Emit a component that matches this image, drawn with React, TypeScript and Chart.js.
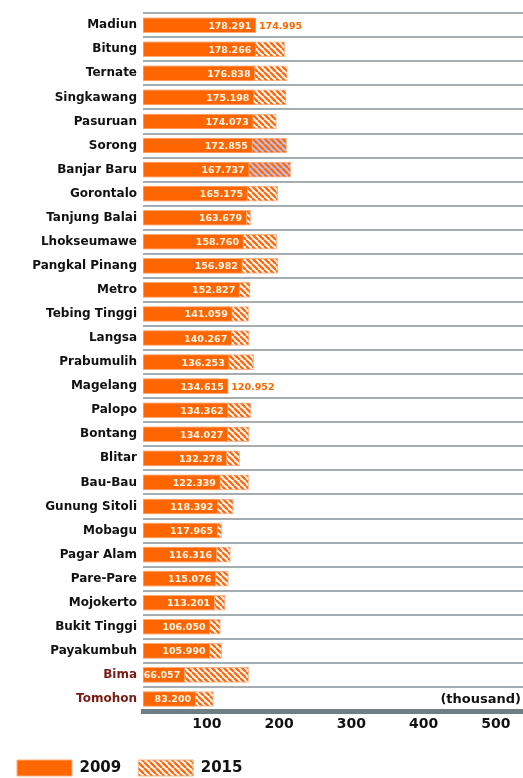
import React, { useEffect, useRef } from "react";
import { Chart, registerables } from "chart.js";

Chart.register(...registerables);

const CITIES = [
  "Madiun", "Bitung", "Ternate", "Singkawang", "Pasuruan", "Sorong", "Banjar Baru",
  "Gorontalo", "Tanjung Balai", "Lhokseumawe", "Pangkal Pinang", "Metro", "Tebing Tinggi",
  "Langsa", "Prabumulih", "Magelang", "Palopo", "Bontang", "Blitar", "Bau-Bau",
  "Gunung Sitoli", "Mobagu", "Pagar Alam", "Pare-Pare", "Mojokerto", "Bukit Tinggi",
  "Payakumbuh", "Bima", "Tomohon",
];

const V2009 = [
  178.291, 178.266, 176.838, 175.198, 174.073, 172.855, 167.737,
  165.175, 163.679, 158.76, 156.982, 152.827, 141.059,
  140.267, 136.253, 134.615, 134.362, 134.027, 132.278, 122.339,
  118.392, 117.965, 116.316, 115.076, 113.201, 106.05,
  105.99, 66.057, 83.2,
];

const V2015 = [
  174.995, 223.6, 227.8, 225.8, 210.5, 226.7, 233.1,
  212.5, 169.9, 211.0, 213.2, 169.0, 166.7,
  167.4, 174.6, 120.952, 170.5, 167.4, 152.5, 166.7,
  142.6, 124.1, 137.9, 134.7, 129.5, 122.1,
  124.1, 166.7, 111.0,
];

const SERIES = ["2009", "2015"];
const BLUE_HATCH_CITIES = ["Sorong", "Banjar Baru"];
const RED_LABEL_CITIES = ["Bima", "Tomohon"];
const X_TICKS = [100, 200, 300, 400, 500];
const UNIT_LABEL = "(thousand)";

const FONT = '"DejaVu Sans", Verdana, sans-serif';
const ORANGE = "#ff6600";

function makeHatch(ctx: CanvasRenderingContext2D, bg: string) {
  const s = 6;
  const c = document.createElement("canvas");
  c.width = s;
  c.height = s;
  const g = c.getContext("2d")!;
  g.fillStyle = bg;
  g.fillRect(0, 0, s, s);
  g.strokeStyle = "#ff6a10";
  g.lineWidth = 2.4;
  g.beginPath();
  for (let k = -1; k <= 1; k++) {
    g.moveTo(k * s, 0);
    g.lineTo(k * s + s, s);
  }
  g.stroke();
  return ctx.createPattern(c, "repeat")!;
}

const fmt = (v: number) => v.toFixed(3);

export default function App() {
  const ref = useRef<HTMLCanvasElement>(null);

  useEffect(() => {
    const canvas = ref.current!;
    const ctx = canvas.getContext("2d")!;
    const hatchWhite = makeHatch(ctx, "#ffffff");
    const hatchBlue = makeHatch(ctx, "#bcc3ee");

    const labelPlugin = {
      id: "valueLabels",
      afterDatasetsDraw(chart: any) {
        const c = chart.ctx;
        const meta = chart.getDatasetMeta(0);
        c.save();
        c.font = `bold 9.5px ${FONT}`;
        c.textBaseline = "middle";
        meta.data.forEach((bar: any, i: number) => {
          c.fillStyle = "#fff6ea";
          c.textAlign = "right";
          c.fillText(fmt(V2009[i]), bar.x - 4.5, bar.y + 1);
          if (V2015[i] < V2009[i]) {
            c.fillStyle = ORANGE;
            c.textAlign = "left";
            c.fillText(fmt(V2015[i]), bar.x + 3, bar.y + 1);
          }
        });
        const ys = chart.scales.y;
        c.font = `bold 13px ${FONT}`;
        c.fillStyle = "#111";
        c.textAlign = "right";
        c.fillText(UNIT_LABEL, chart.chartArea.right - 2, ys.getPixelForValue(CITIES.length - 1) + 0.5);
        c.restore();
      },
    };

    const chart = new Chart(ctx, {
      type: "bar",
      data: {
        labels: CITIES,
        datasets: [
          {
            label: SERIES[0],
            data: V2009,
            backgroundColor: ORANGE,
            borderColor: "#ffab78",
            borderWidth: 1,
            borderSkipped: false,
            barThickness: 15,
            grouped: false,
            xAxisID: "x",
            yAxisID: "y",
          },
          {
            label: SERIES[1],
            data: V2015,
            backgroundColor: CITIES.map((c) => (BLUE_HATCH_CITIES.includes(c) ? hatchBlue : hatchWhite)),
            borderColor: "#fbb38a",
            borderWidth: 1,
            borderSkipped: false,
            barThickness: 15,
            grouped: false,
            xAxisID: "x",
            yAxisID: "y",
          },
        ],
      },
      options: {
        indexAxis: "y",
        responsive: false,
        animation: false,
        layout: { padding: { top: 3, bottom: -8, left: 0, right: 0 } },
        plugins: {
          tooltip: { enabled: false },
          legend: {
            position: "bottom",
            align: "start",
            labels: {
              boxWidth: 55,
              boxHeight: 16,
              padding: 17,
              color: "#111",
              font: { family: FONT, size: 15, weight: "bold" },
              generateLabels: () => [
                {
                  text: SERIES[0],
                  fillStyle: ORANGE,
                  strokeStyle: "#ffab78",
                  lineWidth: 1,
                  hidden: false,
                  datasetIndex: 0,
                  fontColor: "#111",
                },
                {
                  text: SERIES[1],
                  fillStyle: hatchWhite,
                  strokeStyle: "#fbb38a",
                  lineWidth: 1,
                  hidden: false,
                  datasetIndex: 1,
                  fontColor: "#111",
                },
              ],
            },
          },
        },
        scales: {
          x: {
            type: "linear",
            display: false,
            min: 0,
            max: 600,
          },
          xt: {
            type: "linear",
            position: "bottom",
            min: 11.4,
            max: 537.7,
            afterBuildTicks: (scale: any) => {
              scale.ticks = X_TICKS.map((v) => ({ value: v }));
            },
            afterFit: (scale: any) => {
              scale.height = 32;
            },
            grid: { display: false, drawTicks: false },
            border: { display: true, width: 5, color: "#6d7e85" },
            ticks: {
              padding: 5,
              autoSkip: false,
              maxRotation: 0,
              color: "#111",
              font: { family: FONT, size: 14, weight: "bold" },
            },
          },
          y: {
            type: "category",
            afterFit: (scale: any) => {
              scale.width = 143;
            },
            grid: {
              display: true,
              offset: true,
              drawTicks: false,
              color: "#a5adb2",
              lineWidth: 2,
            },
            border: { display: false },
            ticks: {
              padding: 6,
              autoSkip: false,
              color: (c: any) => (RED_LABEL_CITIES.includes(CITIES[c.index]) ? "#7a1a14" : "#111"),
              font: { family: FONT, size: 12, weight: "bold" },
            },
          },
        },
      },
      plugins: [labelPlugin],
    } as any);

    return () => chart.destroy();
  }, []);

  return (
    <div style={{ position: "absolute", left: 0, top: 0, width: 523, height: 778, background: "#fff" }}>
      <canvas ref={ref} width={523} height={778} style={{ display: "block" }} />
    </div>
  );
}
